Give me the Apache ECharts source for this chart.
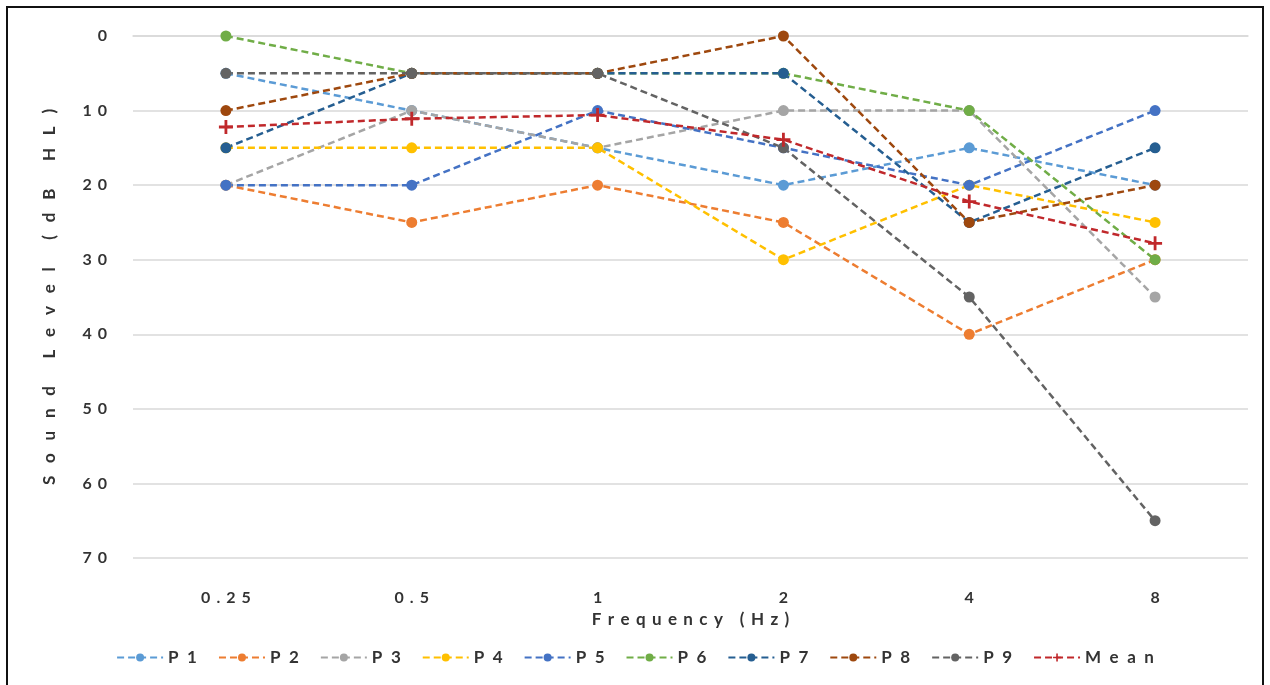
<!DOCTYPE html>
<html><head><meta charset="utf-8">
<script src="https://cdn.jsdelivr.net/npm/echarts@6/dist/echarts.min.js"></script>
<style>html,body{margin:0;padding:0;background:#fff}#c{width:1270px;height:685px}</style>
</head><body><div id="c"></div>
<script>
const categories = ['0.25', '0.5', '1', '2', '4', '8'];
const seriesNames = ['P1', 'P2', 'P3', 'P4', 'P5', 'P6', 'P7', 'P8', 'P9', 'Mean'];
const P1 = [5, 10, 15, 20, 15, 20];
const P2 = [20, 25, 20, 25, 40, 30];
const P3 = [20, 10, 15, 10, 10, 35];
const P4 = [15, 15, 15, 30, 20, 25];
const P5 = [20, 20, 10, 15, 20, 10];
const P6 = [0, 5, 5, 5, 10, 30];
const P7 = [15, 5, 5, 5, 25, 15];
const P8 = [10, 5, 5, 0, 25, 20];
const P9 = [5, 5, 5, 15, 35, 65];
const Mean = [12.2, 11.1, 10.6, 13.9, 22.2, 27.8];
const yTicks = [0, 10, 20, 30, 40, 50, 60, 70];
const colors = ['#5B9BD5', '#ED7D31', '#A5A5A5', '#FFC000', '#4472C4', '#70AD47', '#255E91', '#9E480E', '#636363', '#C0282B'];
const allData = [P1, P2, P3, P4, P5, P6, P7, P8, P9, Mean];

// visual letter spacing using unicode spaces
const T = '\u2009';
const spacer = (letterGap, wordGap) => s => String(s).split(' ').map(w => w.split('').join(letterGap)).join(wordGap);
const tickSp = spacer(T + T + T, '\u2003');
const xNameSp = spacer(T + T + T, '\u2003' + T + T);
const yNameSp = spacer('\u2002' + T + T, '\u2003\u2002' + T + T + T);
const legSp = spacer('\u2002', '\u2003');
const FONT = 'Lato, "Open Sans", "DejaVu Sans", sans-serif';
const crossPath = 'path://M4,0 H6 V4 H10 V6 H6 V10 H4 V6 H0 V4 H4 Z';

const chart = echarts.init(document.getElementById('c'), null, {renderer: 'canvas'});
chart.setOption({
  animation: false,
  backgroundColor: '#fff',
  graphic: [{type: 'rect', shape: {x: 7, y: 7, width: 1256, height: 700}, style: {fill: 'none', stroke: '#111', lineWidth: 2}}],
  grid: {left: 133, right: 22, top: 36, bottom: 127},
  legend: {
    bottom: 14, left: 'center', itemWidth: 46, itemHeight: 10, itemGap: 21,
    data: seriesNames,
    formatter: n => legSp(n),
    textStyle: {fontFamily: FONT, fontWeight: 'bold', fontSize: 17, color: '#333'}
  },
  xAxis: {
    type: 'category', data: categories, boundaryGap: true,
    axisLine: {lineStyle: {color: '#D9D9D9', width: 1.5}}, axisTick: {show: false},
    axisLabel: {formatter: v => tickSp(v), fontFamily: FONT, fontWeight: 'bold', fontSize: 16, color: '#333', margin: 32},
    name: xNameSp('Frequency (Hz)'), nameLocation: 'middle', nameGap: 52,
    nameTextStyle: {fontFamily: FONT, fontWeight: 'bold', fontSize: 17, color: '#333'}
  },
  yAxis: {
    type: 'value', inverse: true, min: yTicks[0], max: yTicks[yTicks.length - 1], interval: 10,
    axisLine: {show: false}, axisTick: {show: false},
    splitLine: {lineStyle: {color: '#D9D9D9', width: 1.5}},
    axisLabel: {formatter: v => tickSp(v), fontFamily: FONT, fontWeight: 'bold', fontSize: 16, color: '#333', margin: 26},
    name: yNameSp('Sound Level (dB HL)'), nameLocation: 'middle', nameGap: 75, nameRotate: 90,
    nameTextStyle: {fontFamily: FONT, fontWeight: 'bold', fontSize: 17, color: '#333'}
  },
  series: seriesNames.map((n, i) => ({
    name: n, type: 'line', data: allData[i],
    symbol: n === 'Mean' ? crossPath : 'circle',
    symbolSize: n === 'Mean' ? 14 : 11,
    showSymbol: true,
    lineStyle: {color: colors[i], width: 2.5, type: [7, 4]},
    itemStyle: {color: colors[i]},
    z: n === 'Mean' ? 5 : 2
  }))
});
</script></body></html>
